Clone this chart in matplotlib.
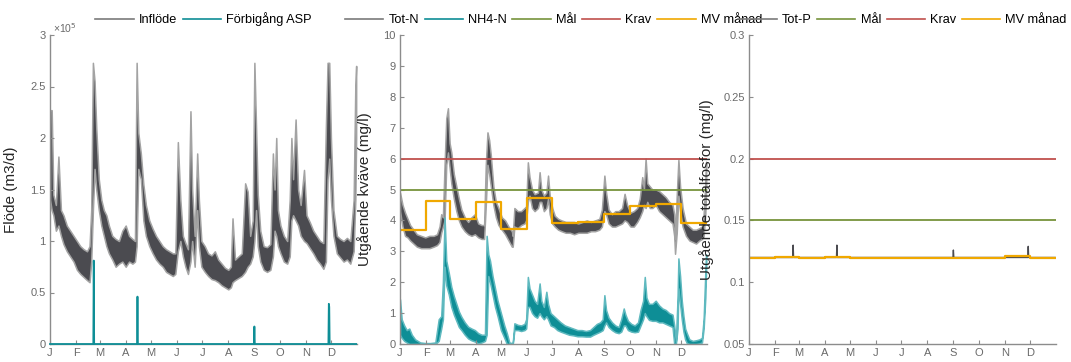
import matplotlib.pyplot as plt
import numpy as np
from matplotlib.lines import Line2D
from matplotlib.ticker import FuncFormatter

plt.rcParams['font.family'] = ['Liberation Sans', 'DejaVu Sans']

month_starts = [0, 31, 59, 90, 120, 151, 181, 212, 243, 273, 304, 334]
month_labels = ['J', 'F', 'M', 'A', 'M', 'J', 'J', 'A', 'S', 'O', 'N', 'D']

# Inflöde, m3/d in units of 1e5 (lower / upper edge of the daily band)
flow_day = [0, 2, 4, 7, 10, 13, 16, 20, 24, 28, 32, 36, 40, 44, 47, 49, 51, 53, 55, 58,
            61, 64, 67, 70, 74, 78, 82, 86, 90, 94, 98, 101, 103, 105, 108, 111, 114, 118,
            122, 126, 130, 134, 138, 142, 146, 149, 152, 155, 158, 161, 164, 167, 169, 172,
            175, 177, 180, 184, 188, 192, 196, 200, 204, 208, 212, 215, 217, 220, 224, 228,
            232, 235, 238, 241, 243, 245, 247, 250, 254, 258, 262, 265, 267, 269, 271, 274,
            278, 282, 285, 287, 289, 292, 295, 298, 302, 305, 309, 313, 317, 321, 325, 328,
            330, 332, 334, 337, 341, 345, 349, 353, 357, 361, 363, 364]
flow_lo = [1.40, 1.30, 1.25, 1.10, 1.15, 1.05, 0.97, 0.90, 0.85, 0.80, 0.72, 0.68, 0.65, 0.62,
           0.60, 0.80, 1.30, 1.70, 1.50, 1.30, 1.15, 1.05, 0.95, 0.88, 0.82, 0.75, 0.78, 0.80,
           0.75, 0.80, 0.78, 0.80, 0.95, 1.70, 1.60, 1.20, 1.05, 0.95, 0.88, 0.82, 0.78, 0.75,
           0.70, 0.68, 0.66, 0.68, 0.90, 1.00, 0.85, 0.75, 0.68, 0.80, 1.00, 0.75, 1.30, 0.95,
           0.75, 0.70, 0.66, 0.63, 0.62, 0.60, 0.57, 0.55, 0.53, 0.55, 0.60, 0.62, 0.64, 0.66,
           0.70, 0.75, 0.78, 0.85, 1.00, 1.30, 0.95, 0.80, 0.72, 0.70, 0.72, 0.85, 1.10, 1.05,
           0.95, 0.88, 0.80, 0.78, 0.85, 1.20, 1.25, 1.20, 1.15, 1.05, 1.00, 0.98, 0.93, 0.88,
           0.82, 0.78, 0.73, 0.80, 1.60, 1.80, 1.40, 1.05, 0.88, 0.84, 0.80, 0.82, 0.78, 0.90,
           1.40, 2.00]
flow_hi = [2.27, 2.27, 1.45, 1.35, 1.82, 1.30, 1.25, 1.15, 1.10, 1.05, 1.00, 0.95, 0.92, 0.90,
           0.95, 1.30, 2.73, 2.55, 2.10, 1.60, 1.40, 1.30, 1.25, 1.15, 1.05, 1.02, 1.00, 1.10,
           1.15, 1.05, 1.02, 1.00, 2.73, 2.05, 1.85, 1.55, 1.35, 1.20, 1.12, 1.05, 1.00, 0.95,
           0.92, 0.90, 0.88, 0.88, 1.96, 1.40, 1.05, 0.98, 0.92, 2.26, 1.50, 1.05, 1.85, 1.40,
           1.00, 0.95, 0.88, 0.86, 0.90, 0.82, 0.78, 0.74, 0.72, 0.75, 1.22, 0.82, 0.85, 0.88,
           1.56, 1.48, 1.05, 1.20, 2.73, 2.10, 1.45, 1.10, 0.95, 0.94, 0.97, 1.85, 1.50, 2.00,
           1.30, 1.15, 1.05, 1.00, 1.40, 2.00, 1.60, 2.18, 1.50, 1.35, 1.69, 1.25, 1.18, 1.10,
           1.05, 1.00, 0.98, 2.11, 2.73, 2.73, 2.00, 1.30, 1.05, 1.02, 1.00, 1.03, 1.00, 1.40,
           2.50, 2.70]

# Förbigång ASP, m3/d in units of 1e5
bypass_day = [0, 51.5, 52, 52.5, 103.5, 104, 104.5, 242.5, 243, 243.5, 331, 331.5, 332, 332.5, 364]
bypass_val = [0, 0, 0.81, 0, 0, 0.46, 0, 0, 0.17, 0, 0, 0.39, 0.36, 0, 0]

# Tot-N, mg/l
totn_day = [0, 3, 6, 9, 12, 16, 20, 25, 30, 35, 40, 44, 47, 49, 51, 53, 55, 57, 59, 61, 64,
            67, 70, 73, 77, 81, 85, 89, 93, 97, 100, 102, 104, 106, 108, 111, 114, 117, 121,
            125, 129, 133, 134, 136, 140, 144, 148, 150, 152, 154, 157, 160, 164, 166, 168,
            171, 174, 176, 178, 181, 184, 188, 192, 197, 202, 207, 212, 217, 222, 227, 232,
            237, 240, 243, 245, 248, 252, 256, 260, 264, 267, 270, 274, 278, 282, 285, 288,
            290, 292, 294, 297, 300, 304, 308, 312, 316, 320, 324, 326, 327, 329, 331, 333,
            336, 340, 344, 348, 352, 356, 359, 361, 363, 364]
totn_lo = [4.30, 3.80, 3.50, 3.45, 3.35, 3.25, 3.15, 3.10, 3.10, 3.10, 3.15, 3.20, 3.30, 3.60,
           3.80, 4.00, 5.80, 6.20, 5.70, 5.20, 4.70, 4.30, 4.00, 3.80, 3.65, 3.55, 3.50, 3.55,
           3.45, 3.40, 3.40, 4.50, 5.80, 5.50, 5.10, 4.50, 4.10, 3.85, 3.70, 3.55, 3.35, 3.15,
           3.15, 3.80, 3.75, 3.85, 3.90, 4.00, 4.60, 4.80, 4.40, 4.30, 4.40, 4.60, 4.60, 4.30,
           4.40, 4.70, 4.20, 3.90, 3.80, 3.70, 3.65, 3.60, 3.60, 3.55, 3.60, 3.60, 3.60, 3.65,
           3.65, 3.70, 3.80, 4.30, 4.20, 3.90, 3.80, 3.80, 3.85, 3.90, 4.00, 3.95, 3.80, 3.80,
           3.95, 4.10, 4.30, 4.50, 4.40, 4.60, 4.40, 4.40, 4.50, 4.30, 4.20, 4.10, 4.00, 3.90,
           3.50, 2.92, 3.60, 4.80, 4.30, 3.80, 3.50, 3.35, 3.30, 3.25, 3.35, 3.40, 3.50, 4.20,
           5.00]
totn_hi = [4.90, 4.50, 4.25, 4.05, 3.85, 3.70, 3.55, 3.50, 3.45, 3.50, 3.50, 3.55, 3.80, 4.20,
           4.10, 5.80, 7.30, 7.63, 6.50, 6.20, 5.50, 5.10, 4.70, 4.35, 4.10, 3.95, 4.10, 4.20,
           3.90, 3.85, 3.85, 5.80, 6.85, 6.60, 6.10, 5.10, 4.60, 4.40, 4.10, 4.00, 3.80, 3.65,
           3.50, 4.40, 4.30, 4.30, 4.40, 4.45, 5.88, 5.40, 5.00, 4.85, 4.90, 5.56, 5.00, 4.80,
           4.90, 5.45, 4.80, 4.40, 4.15, 4.05, 4.00, 3.95, 3.95, 3.95, 3.90, 3.95, 4.00, 3.95,
           4.00, 4.05, 4.35, 5.45, 4.90, 4.35, 4.20, 4.30, 4.30, 4.40, 4.86, 4.50, 4.25, 4.30,
           4.40, 4.70, 5.40, 5.00, 6.00, 5.20, 5.10, 5.00, 5.00, 4.95, 4.85, 4.75, 4.60, 4.50,
           4.20, 3.40, 4.80, 5.96, 5.10, 4.40, 3.90, 3.80, 3.70, 3.70, 3.75, 3.80, 4.20, 5.20,
           5.90]

# NH4-N, mg/l
nh4_day = [0, 2, 5, 8, 11, 14, 18, 24, 30, 36, 42, 46, 49, 51, 53, 55, 58, 61, 64, 67, 70,
           73, 77, 81, 85, 89, 93, 97, 101, 103, 105, 107, 110, 113, 116, 120, 124, 127, 130,
           134, 136, 140, 144, 148, 150, 152, 154, 157, 160, 163, 166, 168, 171, 174, 176,
           179, 183, 187, 191, 196, 201, 206, 211, 216, 221, 226, 230, 234, 238, 241, 243,
           245, 248, 252, 256, 260, 263, 266, 268, 271, 275, 279, 283, 286, 289, 291, 293,
           296, 300, 304, 308, 312, 316, 320, 324, 326, 328, 330, 331, 333, 335, 337, 339,
           341, 344, 348, 352, 356, 359, 361, 363, 364]
nh4_lo = [0.30, 0.20, 0.10, 0.05, 0.00, 0.00, 0.00, 0.00, 0.00, 0.00, 0.00, 0.10, 0.50, 0.80,
          2.50, 1.90, 1.60, 1.20, 0.95, 0.75, 0.55, 0.45, 0.30, 0.18, 0.12, 0.08, 0.02, 0.05,
          0.10, 0.30, 2.20, 2.00, 1.60, 1.20, 0.90, 0.45, 0.20, 0.00, 0.00, 0.00, 0.45, 0.45,
          0.42, 0.45, 0.50, 1.20, 1.20, 1.00, 0.90, 0.85, 1.00, 0.90, 0.80, 0.90, 0.80, 0.60,
          0.55, 0.45, 0.40, 0.35, 0.30, 0.28, 0.25, 0.25, 0.24, 0.24, 0.30, 0.35, 0.40, 0.45,
          0.60, 0.70, 0.55, 0.45, 0.38, 0.35, 0.40, 0.60, 0.60, 0.45, 0.40, 0.38, 0.40, 0.60,
          0.80, 1.00, 0.90, 0.78, 0.75, 0.75, 0.70, 0.70, 0.65, 0.60, 0.55, 0.00, 0.00, 0.50,
          1.80, 1.30, 0.80, 0.40, 0.15, 0.03, 0.00, 0.00, 0.00, 0.02, 0.05, 0.50, 1.50, 2.50]
nh4_hi = [1.45, 0.80, 0.60, 0.45, 0.50, 0.30, 0.15, 0.05, 0.03, 0.03, 0.05, 0.80, 0.90, 2.00,
          4.10, 2.70, 2.30, 1.85, 1.55, 1.30, 1.05, 0.88, 0.70, 0.56, 0.50, 0.45, 0.35, 0.30,
          0.30, 3.50, 2.90, 2.70, 2.20, 1.80, 1.40, 1.00, 0.60, 0.35, 0.05, 0.02, 0.67, 0.62,
          0.60, 0.65, 0.80, 2.17, 1.80, 1.60, 1.40, 1.30, 1.96, 1.40, 1.20, 1.69, 1.30, 1.00,
          0.90, 0.80, 0.70, 0.60, 0.55, 0.50, 0.45, 0.45, 0.42, 0.45, 0.55, 0.65, 0.70, 0.80,
          1.58, 1.10, 0.85, 0.70, 0.60, 0.55, 0.80, 1.15, 0.95, 0.75, 0.65, 0.60, 0.70, 1.10,
          1.40, 2.17, 1.50, 1.30, 1.30, 1.40, 1.25, 1.15, 1.10, 1.00, 0.95, 0.60, 0.10, 1.50,
          2.77, 2.20, 1.40, 0.90, 0.50, 0.35, 0.15, 0.10, 0.12, 0.15, 0.20, 0.80, 2.30, 2.90]

mv_totn = [3.70, 4.63, 4.04, 4.58, 3.71, 4.74, 3.91, 3.95, 4.21, 4.45, 4.52, 3.91]
mal_n = 5
krav_n = 6

# Tot-P, mg/l
totp_day = [0, 52, 52.5, 53, 104, 104.5, 105, 242.5, 243, 243.5, 331.5, 332, 332.5, 364]
totp_val = [0.12, 0.12, 0.13, 0.12, 0.12, 0.13, 0.12, 0.12, 0.126, 0.12, 0.12, 0.129, 0.12, 0.12]
mv_totp = [0.1197, 0.1207, 0.1197, 0.1207, 0.1197, 0.1197, 0.1197, 0.1197, 0.1197, 0.1197,
           0.1213, 0.1197]
mal_p = 0.15
krav_p = 0.2

GRAY = '#4b4b50'
GRAY_EDGE = '#a3a3a3'
GRAY_LEG = '#7a7a7a'
TEAL = '#0e8e96'
GREEN = '#77933c'
RED = '#c0504d'
ORANGE = '#f0a800'
AXIS = '#8c8c8c'


def style_axis(ax, ylim, yticks, ylabel, label_x):
    ax.set_xlim(0, 365)
    ax.set_ylim(*ylim)
    ax.set_xticks(month_starts, month_labels)
    ax.set_yticks(yticks)
    ax.yaxis.set_major_formatter(FuncFormatter(lambda v, p: f'{v:g}'))
    for side in ('top', 'right'):
        ax.spines[side].set_visible(False)
    for side in ('left', 'bottom'):
        ax.spines[side].set_color(AXIS)
        ax.spines[side].set_linewidth(1.0)
    ax.tick_params(direction='in', length=3, color=AXIS, labelcolor='#6a6a6a',
                   labelsize=8, pad=3)
    ax.set_ylabel(ylabel, fontsize=11, color='#262626')
    ax.yaxis.set_label_coords(label_x, 0.5)


def top_legend(ax, items):
    handles = [Line2D([], [], color=c, linewidth=1.2) for _, c in items]
    labels = [name for name, _ in items]
    ax.legend(handles, labels, loc='lower center', bbox_to_anchor=(0.5, 1.0),
              ncol=len(items), frameon=False, fontsize=9.2, handlelength=3.0,
              handletextpad=0.4, columnspacing=0.45, borderaxespad=0.3)


def band(ax, days, lo, hi, color, edge):
    ax.fill_between(days, lo, hi, facecolor=color, edgecolor=edge, linewidth=1.1)


month_edges = month_starts + [365]

fig = plt.figure(figsize=(10.71, 3.62), dpi=100)
ax1 = fig.add_axes([50 / 1071, 18 / 362, 307 / 1071, 309 / 362])
ax2 = fig.add_axes([400 / 1071, 18 / 362, 307 / 1071, 309 / 362])
ax3 = fig.add_axes([749 / 1071, 18 / 362, 307 / 1071, 309 / 362])

# Flow
band(ax1, flow_day, flow_lo, flow_hi, GRAY, GRAY_EDGE)
ax1.plot(bypass_day, bypass_val, color=TEAL, linewidth=1.3, clip_on=False, zorder=3)
style_axis(ax1, (0, 3), np.arange(0, 3.01, 0.5), 'Flöde (m3/d)', -0.104)
ax1.text(0.01, 1.0, '×10$^5$', transform=ax1.transAxes, fontsize=7.5,
         color='#6a6a6a', ha='left', va='bottom')
top_legend(ax1, [('Inflöde', GRAY_LEG), ('Förbigång ASP', TEAL)])

# Nitrogen
band(ax2, totn_day, totn_lo, totn_hi, GRAY, GRAY_EDGE)
band(ax2, nh4_day, nh4_lo, nh4_hi, TEAL, '#5fb9bf')
ax2.axhline(mal_n, color=GREEN, linewidth=1.3)
ax2.axhline(krav_n, color=RED, linewidth=1.3)
ax2.step(month_edges, mv_totn + mv_totn[-1:], where='post', color=ORANGE, linewidth=1.6)
style_axis(ax2, (0, 10), range(0, 11), 'Utgående kväve (mg/l)', -0.091)
top_legend(ax2, [('Tot-N', GRAY_LEG), ('NH4-N', TEAL), ('Mål', GREEN),
                 ('Krav', RED), ('MV månad', ORANGE)])

# Phosphorus
ax3.plot(totp_day, totp_val, color=GRAY, linewidth=1.0)
ax3.axhline(mal_p, color=GREEN, linewidth=1.3)
ax3.axhline(krav_p, color=RED, linewidth=1.3)
ax3.step(month_edges, mv_totp + mv_totp[-1:], where='post', color=ORANGE, linewidth=1.6)
style_axis(ax3, (0.05, 0.3), np.arange(0.05, 0.301, 0.05), 'Utgående totalfosfor (mg/l)', -0.114)
top_legend(ax3, [('Tot-P', GRAY_LEG), ('Mål', GREEN), ('Krav', RED), ('MV månad', ORANGE)])

fig.savefig('out.png', dpi=100)
